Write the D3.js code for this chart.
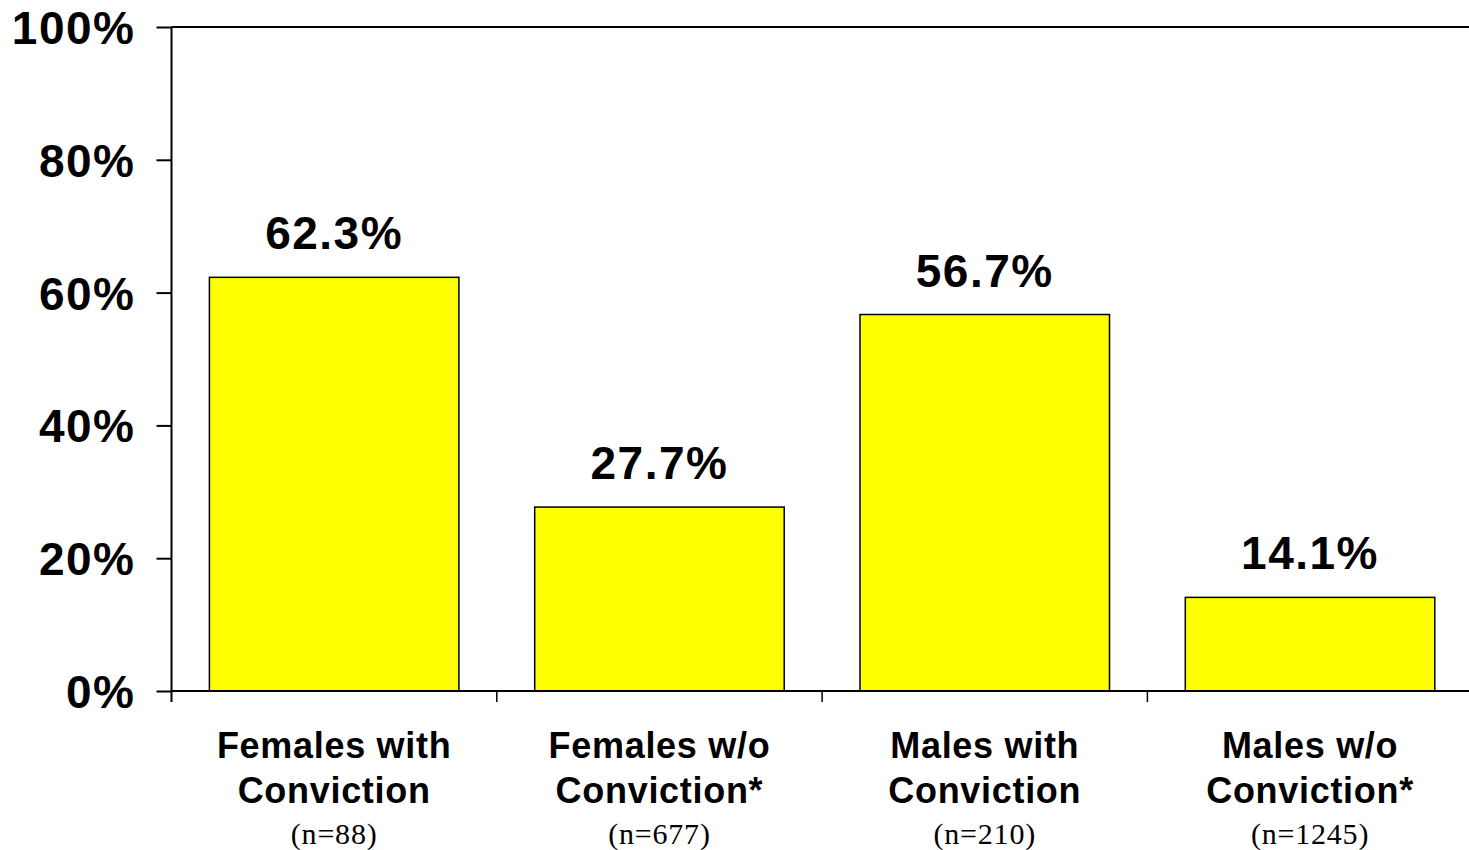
<!DOCTYPE html>
<html>
<head>
<meta charset="utf-8">
<script src="https://cdn.jsdelivr.net/npm/d3@7"></script>
<style>
  html, body { margin: 0; padding: 0; background: #fff; }
  svg { display: block; }
</style>
</head>
<body>
<svg id="chart" width="1469" height="850"></svg>
<script>
// Share of each group, in percent
const categories = [
  ["Females with", "Conviction"],
  ["Females w/o", "Conviction*"],
  ["Males with", "Conviction"],
  ["Males w/o", "Conviction*"]
];
const sampleSizes = ["(n=88)", "(n=677)", "(n=210)", "(n=1245)"];
const values = [62.3, 27.7, 56.7, 14.1];
const yTicks = [0, 20, 40, 60, 80, 100];

const svg = d3.select("#chart");
const plotLeft = 171.5, plotRight = 1472.7, plotTop = 27, plotBottom = 691;
const sans = "Arial, 'Liberation Sans', sans-serif";
const serif = "'Times New Roman', 'Liberation Serif', serif";

const x = d3.scaleBand()
  .domain(d3.range(values.length))
  .range([plotLeft, plotRight])
  .paddingInner(0.233)
  .paddingOuter(0.1165);

const y = d3.scaleLinear().domain([0, 100]).range([plotBottom, plotTop]);

// Plot frame: top border
svg.append("line")
  .attr("x1", plotLeft).attr("x2", 1469)
  .attr("y1", y(100)).attr("y2", y(100))
  .attr("stroke", "#000").attr("stroke-width", 2);

// Bars
svg.selectAll("rect.bar")
  .data(values)
  .join("rect")
  .attr("class", "bar")
  .attr("x", (d, i) => x(i))
  .attr("width", x.bandwidth())
  .attr("y", d => y(d))
  .attr("height", d => y(0) - y(d))
  .attr("fill", "#ffff00")
  .attr("stroke", "#000")
  .attr("stroke-width", 1.5);

// Value labels
svg.selectAll("text.value")
  .data(values)
  .join("text")
  .attr("class", "value")
  .attr("x", (d, i) => x(i) + x.bandwidth() / 2)
  .attr("y", d => y(d) - 28)
  .attr("text-anchor", "middle")
  .attr("font-family", sans)
  .attr("font-weight", "bold")
  .attr("font-size", 46)
  .attr("letter-spacing", 1.5)
  .attr("fill", "#000")
  .text(d => d.toFixed(1) + "%");

// Y axis
const yAxis = d3.axisLeft(y)
  .tickValues(yTicks)
  .tickSize(15)
  .tickPadding(21)
  .tickFormat(d => d + "%");

const gy = svg.append("g")
  .attr("transform", `translate(${plotLeft},0)`)
  .call(yAxis);
gy.select(".domain").attr("stroke", "#000").attr("stroke-width", 2)
  .attr("d", `M0,${plotTop}V${plotBottom + 11}`);
gy.selectAll(".tick line").attr("stroke", "#000").attr("stroke-width", 2);
gy.selectAll(".tick text")
  .attr("font-family", sans)
  .attr("font-weight", "bold")
  .attr("font-size", 46)
  .attr("letter-spacing", 1.5)
  .attr("fill", "#000")
  .attr("dy", "0.36em");

// X axis baseline and category separators
svg.append("line")
  .attr("x1", plotLeft).attr("x2", 1469)
  .attr("y1", y(0)).attr("y2", y(0))
  .attr("stroke", "#000").attr("stroke-width", 2);

const boundaries = d3.range(1, values.length).map(i => plotLeft + i * x.step());
svg.selectAll("line.sep")
  .data(boundaries)
  .join("line")
  .attr("class", "sep")
  .attr("x1", d => d).attr("x2", d => d)
  .attr("y1", y(0)).attr("y2", y(0) + 11)
  .attr("stroke", "#000").attr("stroke-width", 1.5);

// Category labels with sample sizes
const catG = svg.selectAll("g.cat")
  .data(categories)
  .join("g")
  .attr("class", "cat")
  .attr("transform", (d, i) => `translate(${x(i) + x.bandwidth() / 2},0)`);

catG.each(function(lines, i) {
  const g = d3.select(this);
  lines.forEach((t, k) => {
    g.append("text")
      .attr("y", 758 + k * 45)
      .attr("text-anchor", "middle")
      .attr("font-family", sans)
      .attr("font-weight", "bold")
      .attr("font-size", 36)
      .attr("letter-spacing", 0.7)
      .attr("fill", "#000")
      .text(t);
  });
  g.append("text")
    .attr("y", 844)
    .attr("text-anchor", "middle")
    .attr("font-family", serif)
    .attr("font-size", 30)
    .attr("letter-spacing", 0.8)
    .attr("fill", "#000")
    .text(sampleSizes[i]);
});
</script>
</body>
</html>
